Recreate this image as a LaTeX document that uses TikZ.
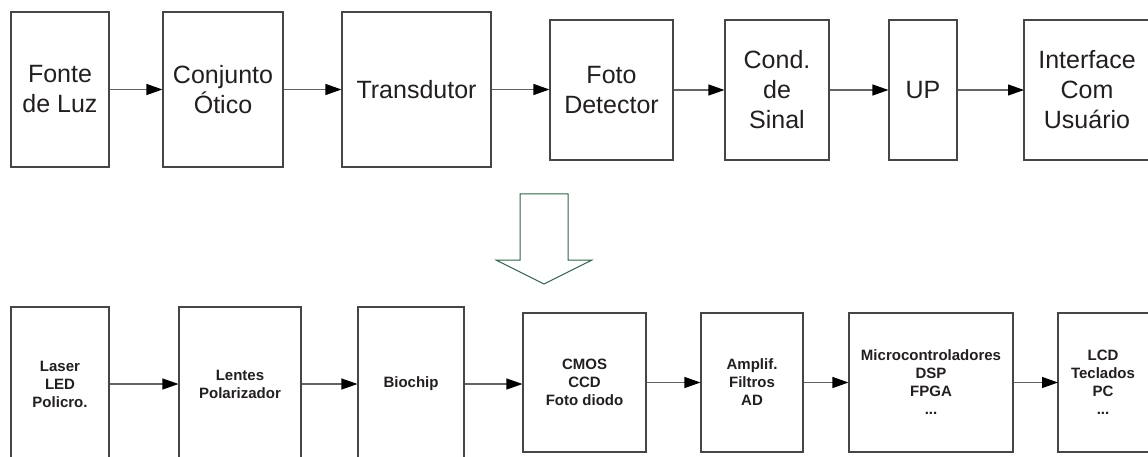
\documentclass[tikz,border=0pt]{standalone}
\usepackage{fontspec}
\setmainfont{Liberation Sans}
\usetikzlibrary{arrows.meta}
\definecolor{boxgray}{RGB}{70,70,70}
\definecolor{linegray}{RGB}{100,100,100}
\definecolor{txt}{RGB}{35,31,32}
\definecolor{arrgreen}{RGB}{45,100,70}
\begin{document}
\begin{tikzpicture}[x=1pt,y=-1pt,
  blk/.style={draw=boxgray, line width=1.1pt, inner sep=0pt, align=center, text=txt},
  topbox/.style={blk, font=\fontsize{25}{30}\selectfont},
  botbox/.style={blk, font=\fontsize{15}{18}\selectfont\bfseries},
  openbox/.style={draw=boxgray, line width=1.1pt},
  link/.style={draw=linegray, line width=1.1pt, -{Triangle[length=16pt,width=11pt,color=black]}},
  bigarrow/.style={draw=arrgreen, line width=1pt, line join=miter}
]
\path[use as bounding box, clip] (0,0) rectangle (1148,457);
\fill[white] (0,0) rectangle (1148,457);

% upper chain: functional blocks
\node[topbox, minimum width=98pt,  minimum height=155pt] (t1) at (60,89.5)   {Fonte\\de Luz};
\node[topbox, minimum width=120pt, minimum height=155pt] (t2) at (223,89.5)  {Conjunto\\Ótico};
\node[topbox, minimum width=149pt, minimum height=155pt] (t3) at (416.5,89.5) {Transdutor};
\node[topbox, minimum width=123pt, minimum height=140pt] (t4) at (611.5,90)  {Foto\\Detector};
\node[topbox, minimum width=104pt, minimum height=140pt] (t5) at (777,90)    {Cond.\\de\\Sinal};
\node[topbox, minimum width=68pt,  minimum height=140pt] (t6) at (923,90)    {UP};
\node[topbox, draw=none, outer sep=0pt, minimum width=126pt, minimum height=140pt] (t7) at (1087,90) {Interface\\Com\\Usuário};
\draw[openbox] (t7.north west) rectangle ([xshift=30pt]t7.south east);

\draw[link] (t1.east) -- (t2.west);
\draw[link] (t2.east) -- (t3.west);
\draw[link] (t3.east) -- (t3.east -| t4.west);
\draw[link] (t4.east) -- (t5.west);
\draw[link] (t5.east) -- (t6.west);
\draw[link] (t6.east) -- (t7.west);

% hollow arrow pointing to the implementation chain
\draw[bigarrow] (520,194) -- (568,194) -- (568,260) -- (592,260) -- (544,284)
  -- (496,260) -- (520,260) -- cycle;

% lower chain: implementation options
\node[botbox, minimum width=98pt,  minimum height=154pt] (b1) at (60,384)    {Laser\\LED\\Policro.};
\node[botbox, minimum width=122pt, minimum height=154pt] (b2) at (240,384)   {Lentes\\Polarizador};
\node[botbox, minimum width=106pt, minimum height=154pt] (b3) at (411,384)   {Biochip};
\node[botbox, minimum width=123pt, minimum height=139pt] (b4) at (584.5,382.5) {CMOS\\CCD\\Foto diodo};
\node[botbox, minimum width=102pt, minimum height=139pt] (b5) at (752,382.5) {Amplif.\\Filtros\\AD};
\node[botbox, minimum width=164pt, minimum height=139pt] (b6) at (931,382.5) {Microcontroladores\\DSP\\FPGA\\...};
\node[botbox, draw=none, outer sep=0pt, minimum width=90pt, minimum height=139pt] (b7) at (1103,382.5) {LCD\\Teclados\\PC\\...};
\draw[openbox] (b7.north west) rectangle ([xshift=30pt]b7.south east);

\draw[link] (b1.east) -- (b2.west);
\draw[link] (b2.east) -- (b3.west);
\draw[link] (b3.east) -- (b3.east -| b4.west);
\draw[link] (b4.east) -- (b5.west);
\draw[link] (b5.east) -- (b6.west);
\draw[link] (b6.east) -- (b7.west);
\end{tikzpicture}
\end{document}
